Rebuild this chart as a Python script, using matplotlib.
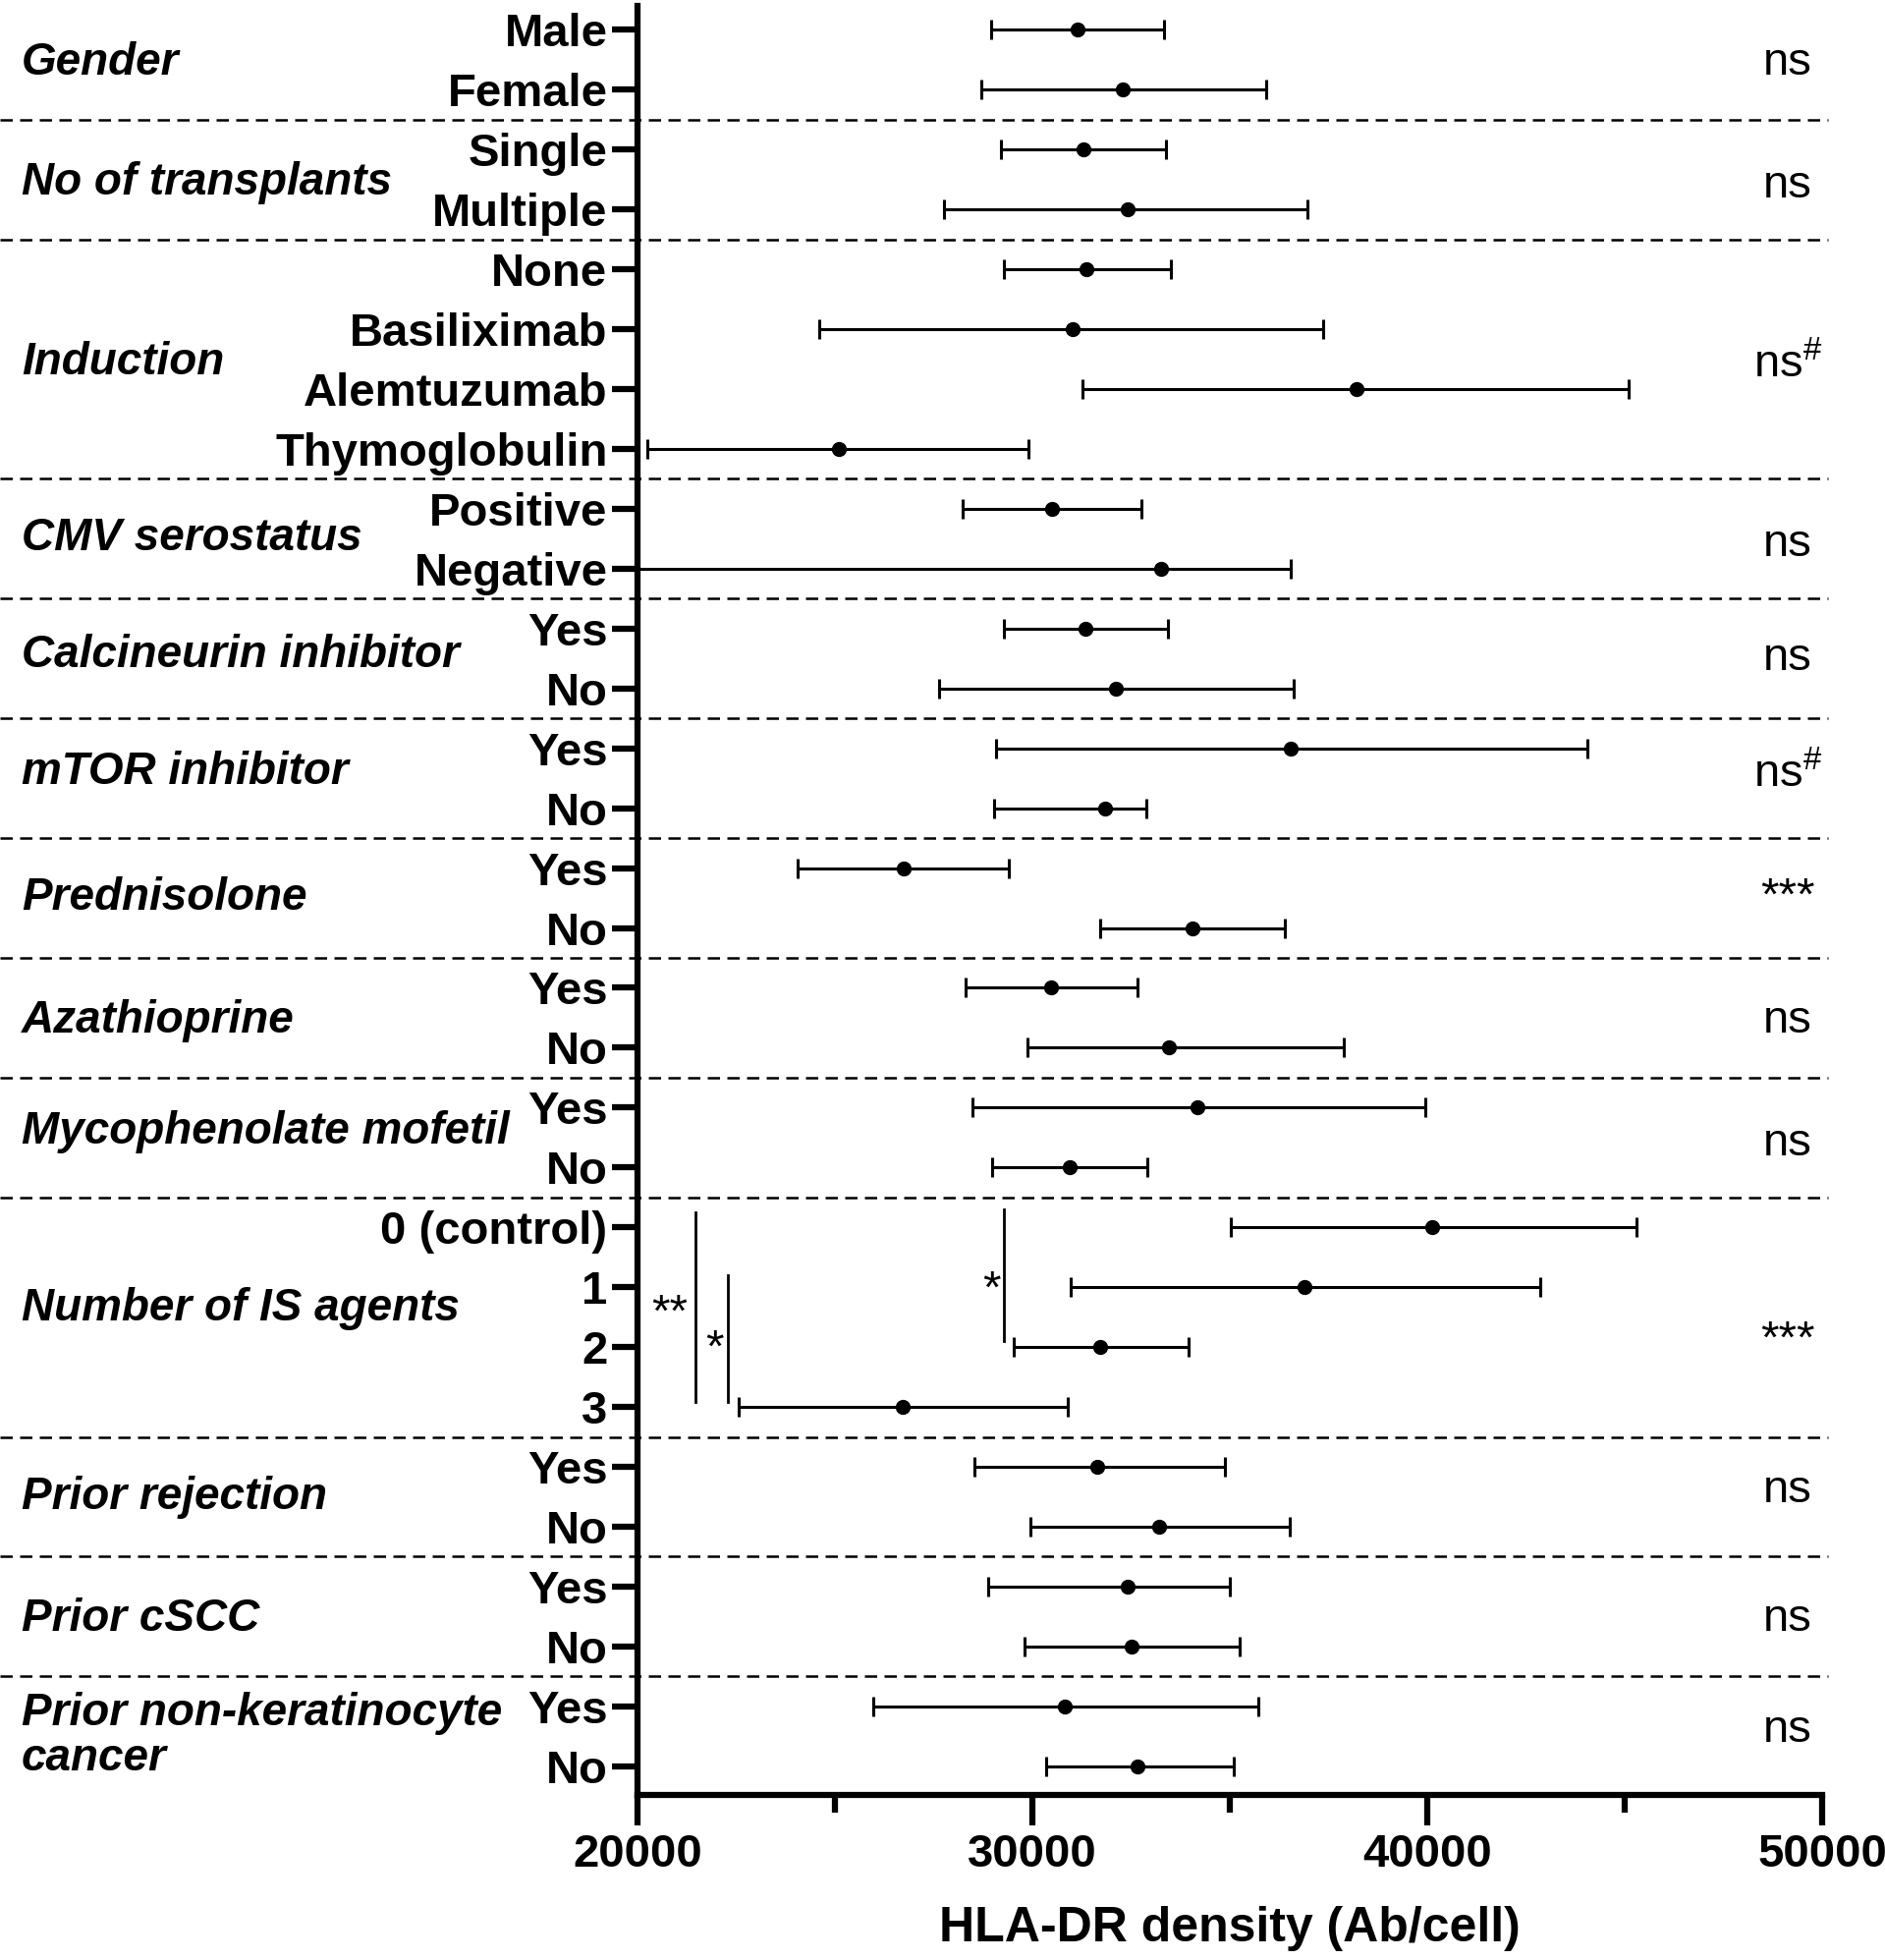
import numpy as np
import matplotlib.pyplot as plt
from matplotlib.ticker import MultipleLocator

plt.rcParams['font.family'] = ['Liberation Sans', 'DejaVu Sans']
plt.rcParams['mathtext.fontset'] = 'custom'
plt.rcParams['mathtext.rm'] = 'Liberation Sans'
plt.rcParams['mathtext.default'] = 'regular'

# groups and their levels (top to bottom)
groups = ['Gender', 'No of transplants', 'Induction', 'CMV serostatus',
          'Calcineurin inhibitor', 'mTOR inhibitor', 'Prednisolone',
          'Azathioprine', 'Mycophenolate mofetil', 'Number of IS agents',
          'Prior rejection', 'Prior cSCC', 'Prior non-keratinocyte\ncancer']
levels = [['Male', 'Female'], ['Single', 'Multiple'],
          ['None', 'Basiliximab', 'Alemtuzumab', 'Thymoglobulin'],
          ['Positive', 'Negative'], ['Yes', 'No'], ['Yes', 'No'], ['Yes', 'No'],
          ['Yes', 'No'], ['Yes', 'No'], ['0 (control)', '1', '2', '3'],
          ['Yes', 'No'], ['Yes', 'No'], ['Yes', 'No']]
significance = ['ns', 'ns', r'ns$^{\#}$', 'ns', 'ns', r'ns$^{\#}$', '***',
                'ns', 'ns', '***', 'ns', 'ns', 'ns']

# HLA-DR density (Ab/cell): mean and error bar ends, one per row
means = [31140, 32280, 31300, 32400, 31360, 31010, 38200, 25100,
         30500, 33260, 31330, 32120, 36550, 31840, 26740, 34050,
         30480, 33450, 34180, 30950, 40130, 36900, 31710, 26710,
         31650, 33200, 32400, 32500, 30820, 32660]
lower = [28960, 28700, 29210, 27750, 29270, 24590, 31270, 20250,
         28230, 19000, 29270, 27630, 29080, 29020, 24050, 31710,
         28320, 29870, 28480, 28990, 35030, 30980, 29520, 22560,
         28540, 29940, 28890, 29810, 25980, 30350]
upper = [33320, 35920, 33390, 36960, 33510, 37370, 45100, 29900,
         32750, 36550, 33420, 36610, 44050, 32880, 29400, 36390,
         32660, 37880, 39940, 32910, 45290, 42850, 33960, 30890,
         34870, 36520, 35000, 35250, 35730, 35100]

means = np.array(means)
lower = np.array(lower)
upper = np.array(upper)
row_labels = [lv for grp in levels for lv in grp]
ypos = np.arange(len(row_labels))

# small vertical nudges (in rows) for group labels and significance marks
label_shift = [0.05, 0.05, 0.05, 0.0, -0.05, -0.1, 0.0, 0.05, -0.1, -0.15, 0.0, 0.05, 0.0]
sig_shift = [0.05, 0.1, 0.1, 0.1, 0.0, -0.05, 0.0, 0.05, 0.1, 0.4, -0.1, 0.05, -0.1]

fig = plt.figure(figsize=(19.19, 19.95), dpi=100)
ax = fig.add_axes([0.3382, 0.0842, 0.6285, 0.9128])

ax.errorbar(means, ypos, xerr=[means - lower, upper - means], fmt='o',
            color='black', ms=10, elinewidth=2.2, capsize=7.5, capthick=2.2)

ax.set_xlim(20000, 50000)
ax.set_ylim(len(row_labels) - 0.52, -0.4)

ax.set_yticks(ypos)
ax.set_yticklabels(row_labels, fontsize=34, fontweight='bold')
ax.tick_params(axis='y', length=19, width=4.5, pad=3)

ax.set_xticks([20000, 30000, 40000, 50000])
ax.xaxis.set_minor_locator(MultipleLocator(5000))
ax.tick_params(axis='x', which='major', length=22, width=4.5, pad=6, labelsize=34)
ax.tick_params(axis='x', which='minor', length=13, width=4.5)
for lab in ax.get_xticklabels():
    lab.set_fontweight('bold')
ax.set_xlabel('HLA-DR density (Ab/cell)', fontsize=36, fontweight='bold', labelpad=22)

for side in ['top', 'right']:
    ax.spines[side].set_visible(False)
for side in ['left', 'bottom']:
    ax.spines[side].set_linewidth(4.5)

# group labels, separators and significance
ytr = ax.get_yaxis_transform()
start = 0
for i, grp in enumerate(groups):
    n = len(levels[i])
    center = start + (n - 1) / 2
    ax.text(-0.52, center + label_shift[i], grp, transform=ytr, ha='left', va='center',
            fontsize=33, fontweight='bold', fontstyle='italic', linespacing=1.05)
    ax.text(0.971, center + sig_shift[i], significance[i], transform=ytr, ha='center',
            va='center', fontsize=34)
    start += n
    if i < len(groups) - 1:
        ax.plot([-0.538, 1.005], [start - 0.5, start - 0.5], transform=ytr,
                color='black', lw=1.8, ls=(0, (5, 3)), clip_on=False)

# pairwise comparison brackets in "Number of IS agents"
ax.plot([21456, 21456], [19.75, 22.92], color='black', lw=2)
ax.plot([22278, 22278], [20.8, 22.92], color='black', lw=2)
ax.plot([29272, 29272], [19.7, 21.9], color='black', lw=2)
ax.text(20823, 21.45, '**', ha='center', va='center', fontsize=34)
ax.text(21962, 22.05, '*', ha='center', va='center', fontsize=34)
ax.text(28956, 21.05, '*', ha='center', va='center', fontsize=34)

fig.savefig('out.png', dpi=100)
